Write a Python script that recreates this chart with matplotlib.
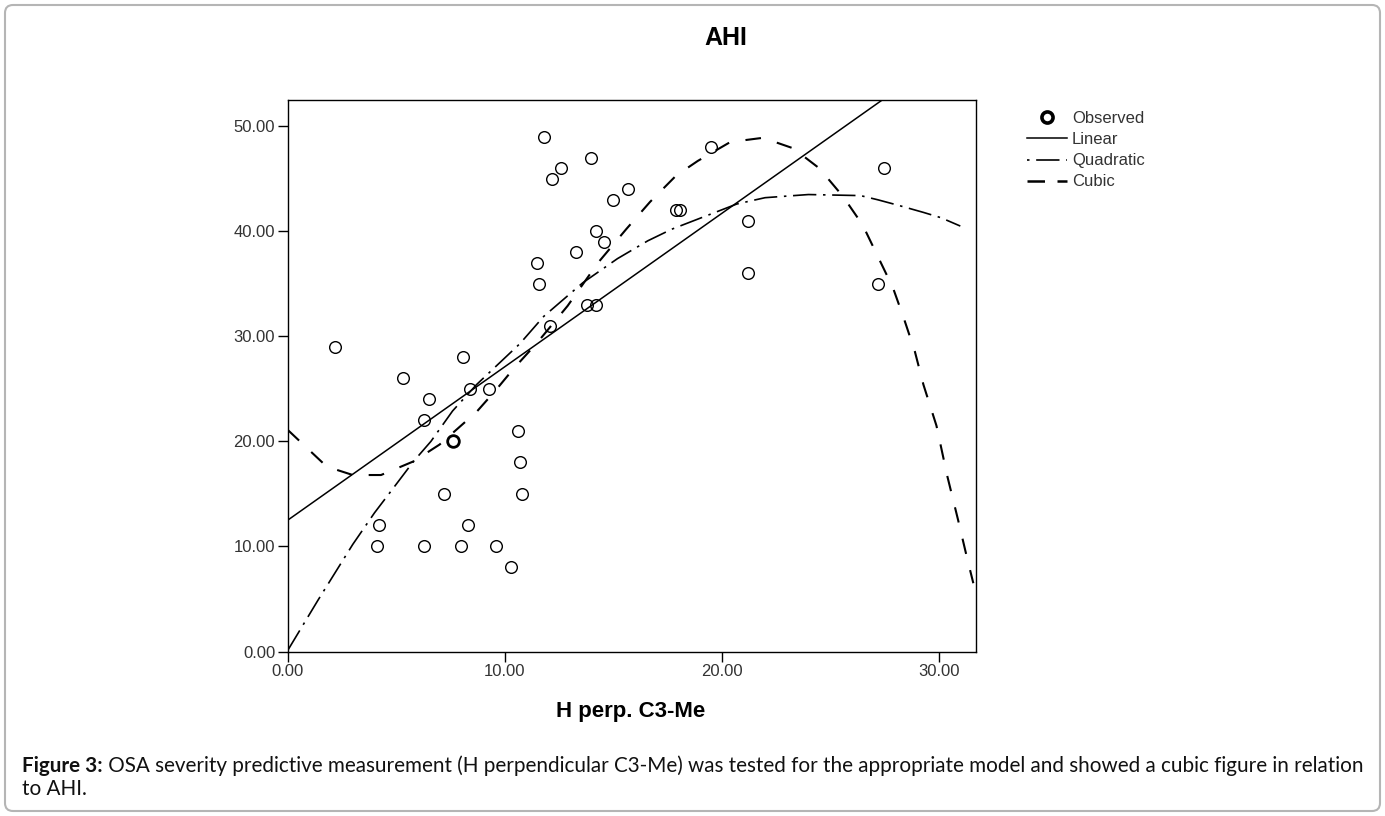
import matplotlib
matplotlib.use('Agg')

import matplotlib.pyplot as plt
from matplotlib.lines import Line2D
from matplotlib.patches import FancyBboxPatch
from matplotlib.transforms import IdentityTransform
import pandas as pd

# --- DATA ---
obs_x = [2.2, 5.3, 8.1, 11.8, 12.2, 12.6, 14.0, 15.0, 15.7, 14.2, 14.6, 13.3,
         11.5, 11.6, 13.8, 14.2, 12.1, 17.9, 18.1, 19.5, 27.5, 21.2, 21.2, 27.2,
         8.4, 9.3, 6.5, 6.3, 7.6, 7.6, 10.6, 10.7, 10.8, 7.2, 4.2, 8.3, 4.1,
         6.3, 8.0, 9.6, 10.3]
obs_y = [29, 26, 28, 49, 45, 46, 47, 43, 44, 40, 39, 38,
         37, 35, 33, 33, 31, 42, 42, 48, 46, 41, 36, 35,
         25, 25, 24, 22, 20, 20, 21, 18, 15, 15, 12, 12, 10,
         10, 10, 10, 8]

linear_x = [0.0, 27.4]
linear_y = [12.5, 52.5]

quad_x = [0.0, 1.4, 3.0, 4.0, 4.7, 5.8, 6.6, 7.6, 8.7, 10.7, 11.8, 13.6, 15.2,
          16.6, 17.7, 20.7, 22.0, 24.0, 26.4, 27.2, 28.1, 29.3, 30.1, 31.0]
quad_y = [0.1, 4.9, 10.2, 13.2, 15.1, 18.1, 20.0, 22.9, 25.4, 29.3, 31.9, 35.1, 37.4,
          39.1, 40.2, 42.6, 43.2, 43.5, 43.4, 43.0, 42.5, 41.8, 41.3, 40.5]

cubic_x = [0.0, 1.8, 3.0, 4.3, 5.8, 7.0, 8.7, 9.6, 10.4, 11.5, 12.9, 14.3, 15.6,
           16.7, 17.9, 18.9, 20.4, 21.9, 23.3, 24.5, 25.6, 26.5, 27.2, 27.9,
           28.4, 28.9, 29.3, 29.9, 30.4, 30.9, 31.3, 31.6]
cubic_y = [21.1, 17.6, 16.8, 16.8, 18.1, 19.7, 22.8, 24.9, 26.9, 29.4, 32.9, 37.0, 40.2,
           42.8, 45.3, 46.7, 48.5, 48.9, 47.9, 46.0, 43.3, 40.6, 37.6, 34.6,
           31.7, 28.6, 25.4, 21.5, 16.7, 12.5, 9.0, 6.5]

x_ticks = [0, 10, 20, 30]
y_ticks = [0, 10, 20, 30, 40, 50]
legend_labels = ['Observed', 'Linear', 'Quadratic', 'Cubic']

title = 'AHI'
x_label = 'H perp. C3-Me'
caption_bold = 'Figure 3:'
caption_line1 = (' OSA severity predictive measurement (H perpendicular C3-Me) was tested '
                 'for the appropriate model and showed a cubic figure in relation')
caption_line2 = 'to AHI.'

# --- LAYOUT ---
W, H = 1385, 816
CHART_FONT = 'Liberation Sans'
CAPTION_FONT = 'Lato'
CAPTION_SIZE = 14.85
TEXT_GREY = '#333333'

fig = plt.figure(figsize=(W / 100, H / 100), dpi=100)
ax = fig.add_axes([287.7 / W, 1 - 651.5 / H, (975.5 - 287.7) / W, (651.5 - 100) / H])

# fitted curves
ax.plot(linear_x, linear_y, color='black', lw=1.1)
ax.plot(quad_x, quad_y, color='black', lw=1.2, dashes=(14, 4, 1.5, 4))
ax.plot(cubic_x, cubic_y, color='black', lw=1.5, dashes=(7.5, 8))

# observed points, repeated cases drawn with a heavier ring
df = pd.DataFrame({'x': obs_x, 'y': obs_y})
cnt = df.groupby(['x', 'y']).size().reset_index(name='n')
single = cnt[cnt['n'] == 1]
multi = cnt[cnt['n'] > 1]
ax.plot(single['x'], single['y'], 'o', ms=8.4, mfc='none', mec='black', mew=1.0, ls='none')
ax.plot(multi['x'], multi['y'], 'o', ms=8.4, mfc='none', mec='black', mew=2.0, ls='none')

ax.set_xlim(0, 31.7)
ax.set_ylim(0, 52.5)
ax.set_xticks(x_ticks)
ax.set_xticklabels([f'{v:.2f}' for v in x_ticks], family=CHART_FONT)
ax.set_yticks(y_ticks)
ax.set_yticklabels([f'{v:.2f}' for v in y_ticks], family=CHART_FONT)
ax.tick_params(direction='out', length=7.5, width=1, labelsize=12,
               labelcolor=TEXT_GREY, pad=1.5)
for sp in ax.spines.values():
    sp.set_color('black')
    sp.set_linewidth(1.0)

# legend
handles = [
    Line2D([], [], marker='o', ls='none', ms=8, mfc='none', mec='black', mew=2.6),
    Line2D([], [], color='black', lw=1.1),
    Line2D([], [], color='black', lw=1.2, dashes=(1.5, 4, 14, 4)),
    Line2D([], [], color='black', lw=1.8, dashes=(7, 5)),
]
leg = ax.legend(handles, legend_labels, loc='upper left',
                bbox_to_anchor=(1027 / W, 1 - 111 / H), bbox_transform=fig.transFigure,
                frameon=False, handlelength=2.4, handletextpad=0.3, labelspacing=0.37,
                borderpad=0, borderaxespad=0,
                prop={'family': CHART_FONT, 'size': 12})
for t in leg.get_texts():
    t.set_color(TEXT_GREY)

# titles
fig.text(726 / W, 1 - 38 / H, title, ha='center', va='center',
         fontsize=18, fontweight='bold', family=CHART_FONT)
fig.text(631 / W, 1 - 712 / H, x_label, ha='center', va='center',
         fontsize=16, fontweight='bold', family=CHART_FONT)

# caption below the chart
t1 = fig.text(22 / W, 1 - 766 / H, caption_bold, ha='left', va='center',
              fontsize=CAPTION_SIZE, fontweight='bold', family=CAPTION_FONT, color='#111111')
ax.annotate(caption_line1, xy=(1, 0), xycoords=t1, ha='left', va='bottom',
            fontsize=CAPTION_SIZE, family=CAPTION_FONT, color='#111111', annotation_clip=False)
fig.text(22 / W, 1 - 789 / H, caption_line2, ha='left', va='center',
         fontsize=CAPTION_SIZE, family=CAPTION_FONT, color='#111111')

# rounded frame around the whole figure
frame = FancyBboxPatch((5, 5), W - 10, H - 10, boxstyle='round,pad=0,rounding_size=8',
                       transform=IdentityTransform(), fill=False,
                       edgecolor='#b5b5b5', linewidth=1.5)
fig.add_artist(frame)

fig.savefig('out.png', dpi=100)
